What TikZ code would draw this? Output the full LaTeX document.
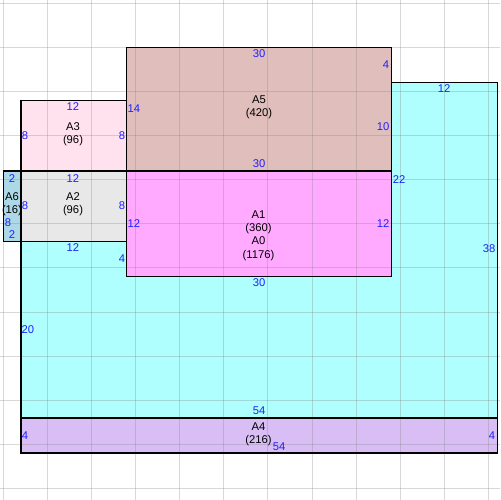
\documentclass[tikz,border=0pt]{standalone}
\usepackage{fontspec}
\setmainfont{Liberation Sans}
\definecolor{cA5}{RGB}{224,190,187}
\definecolor{cA3}{RGB}{255,226,238}
\definecolor{cA2}{RGB}{232,232,232}
\definecolor{cA6}{RGB}{173,216,230}
\definecolor{cA1}{RGB}{255,170,255}
\definecolor{cA0}{RGB}{175,255,255}
\definecolor{cA4}{RGB}{216,190,245}
\definecolor{numblue}{RGB}{32,32,255}
\definecolor{gridgray}{RGB}{128,128,128}
\tikzset{
  outline/.style={draw=black,line width=0.75pt},
  gridline/.style={draw=gridgray,opacity=0.3,line width=0.55pt},
  area/.style={align=center,inner sep=0pt,font=\fontsize{6.4}{7.6}\selectfont,text=black},
  num/.style={inner sep=0pt,font=\fontsize{6.4}{7.6}\selectfont,text=numblue},
}
\begin{document}
\begin{tikzpicture}[x=0.02cm,y=-0.02cm]
\useasboundingbox (0,0) rectangle (500,500);
\fill[white] (0,0) rectangle (500,500);
% corner coordinates (px)
\coordinate (a0p1) at (20.94,241.44);
\coordinate (a0p2) at (126.78,241.44);
\coordinate (a0p3) at (126.78,276.72);
\coordinate (a0p4) at (391.38,276.72);
\coordinate (a0p5) at (391.38,82.68);
\coordinate (a0p6) at (497.22,82.68);
\coordinate (a0p7) at (497.22,417.84);
\coordinate (a0p8) at (20.94,417.84);
% fills
\fill[cA0] (a0p1) -- (a0p2) -- (a0p3) -- (a0p4) -- (a0p5) -- (a0p6) -- (a0p7) -- (a0p8) -- cycle;
\fill[cA5] (126.78,47.4) rectangle (391.38,170.88);
\fill[cA1] (126.78,170.88) rectangle (391.38,276.72);
\fill[cA3] (20.94,100.32) rectangle (126.78,170.88);
\fill[cA2] (20.94,170.88) rectangle (126.78,241.44);
\fill[cA6] (3.3,170.88) rectangle (20.94,241.44);
\fill[cA4] (20.94,417.84) rectangle (497.22,453.12);
% grid
\foreach \k in {0,...,11}{
  \draw[gridline] ({3.3+44.1*\k},0) -- ({3.3+44.1*\k},500);
  \draw[gridline] (0,{3.3+44.1*\k}) -- (500,{3.3+44.1*\k});
}
% outlines
\draw[outline] (a0p1) -- (a0p2) -- (a0p3) -- (a0p4) -- (a0p5) -- (a0p6) -- (a0p7) -- (a0p8) -- cycle;
\draw[outline] (126.78,47.4) rectangle (391.38,170.88);
\draw[outline] (126.78,170.88) rectangle (391.38,276.72);
\draw[outline] (20.94,100.32) rectangle (126.78,170.88);
\draw[outline] (20.94,170.88) rectangle (126.78,241.44);
\draw[outline] (3.3,170.88) rectangle (20.94,241.44);
\draw[outline] (20.94,417.84) rectangle (497.22,453.12);
% area labels
\node[area] (lA5) at (259,107) {A5\\(420)};
\node[area] (lA1) at (258.5,235.5) {A1\\(360)\\A0\\(1176)};
\node[area] (lA3) at (73,134) {A3\\(96)};
\node[area] (lA2) at (73,204.5) {A2\\(96)};
\node[area] (lA6) at (12,204.5) {A6\\(16)};
\node[area] (lA4) at (258.5,434) {A4\\(216)};
% side lengths
\node[num] (n1) at (259,54) {30};
\node[num] (n2) at (386,65) {4};
\node[num] (n3) at (383,127) {10};
\node[num] (n4) at (134,109) {14};
\node[num] (n5) at (259,164) {30};
\node[num] (n6) at (73,107) {12};
\node[num] (n7) at (25,136) {8};
\node[num] (n8) at (122,136) {8};
\node[num] (n9) at (73,179) {12};
\node[num] (n10) at (25,206) {8};
\node[num] (n11) at (122,206) {8};
\node[num] (n12) at (12,179) {2};
\node[num] (n13) at (8,223) {8};
\node[num] (n14) at (12,235) {2};
\node[num] (n15) at (134,224) {12};
\node[num] (n16) at (383,224) {12};
\node[num] (n17) at (399,180) {22};
\node[num] (n18) at (444,89) {12};
\node[num] (n19) at (489,249) {38};
\node[num] (n20) at (73,248) {12};
\node[num] (n21) at (122,259) {4};
\node[num] (n22) at (259,283) {30};
\node[num] (n23) at (28,330) {20};
\node[num] (n24) at (259,411) {54};
\node[num] (n25) at (25,436) {4};
\node[num] (n26) at (279,447) {54};
\node[num] (n27) at (492,436) {4};
\end{tikzpicture}
\end{document}
